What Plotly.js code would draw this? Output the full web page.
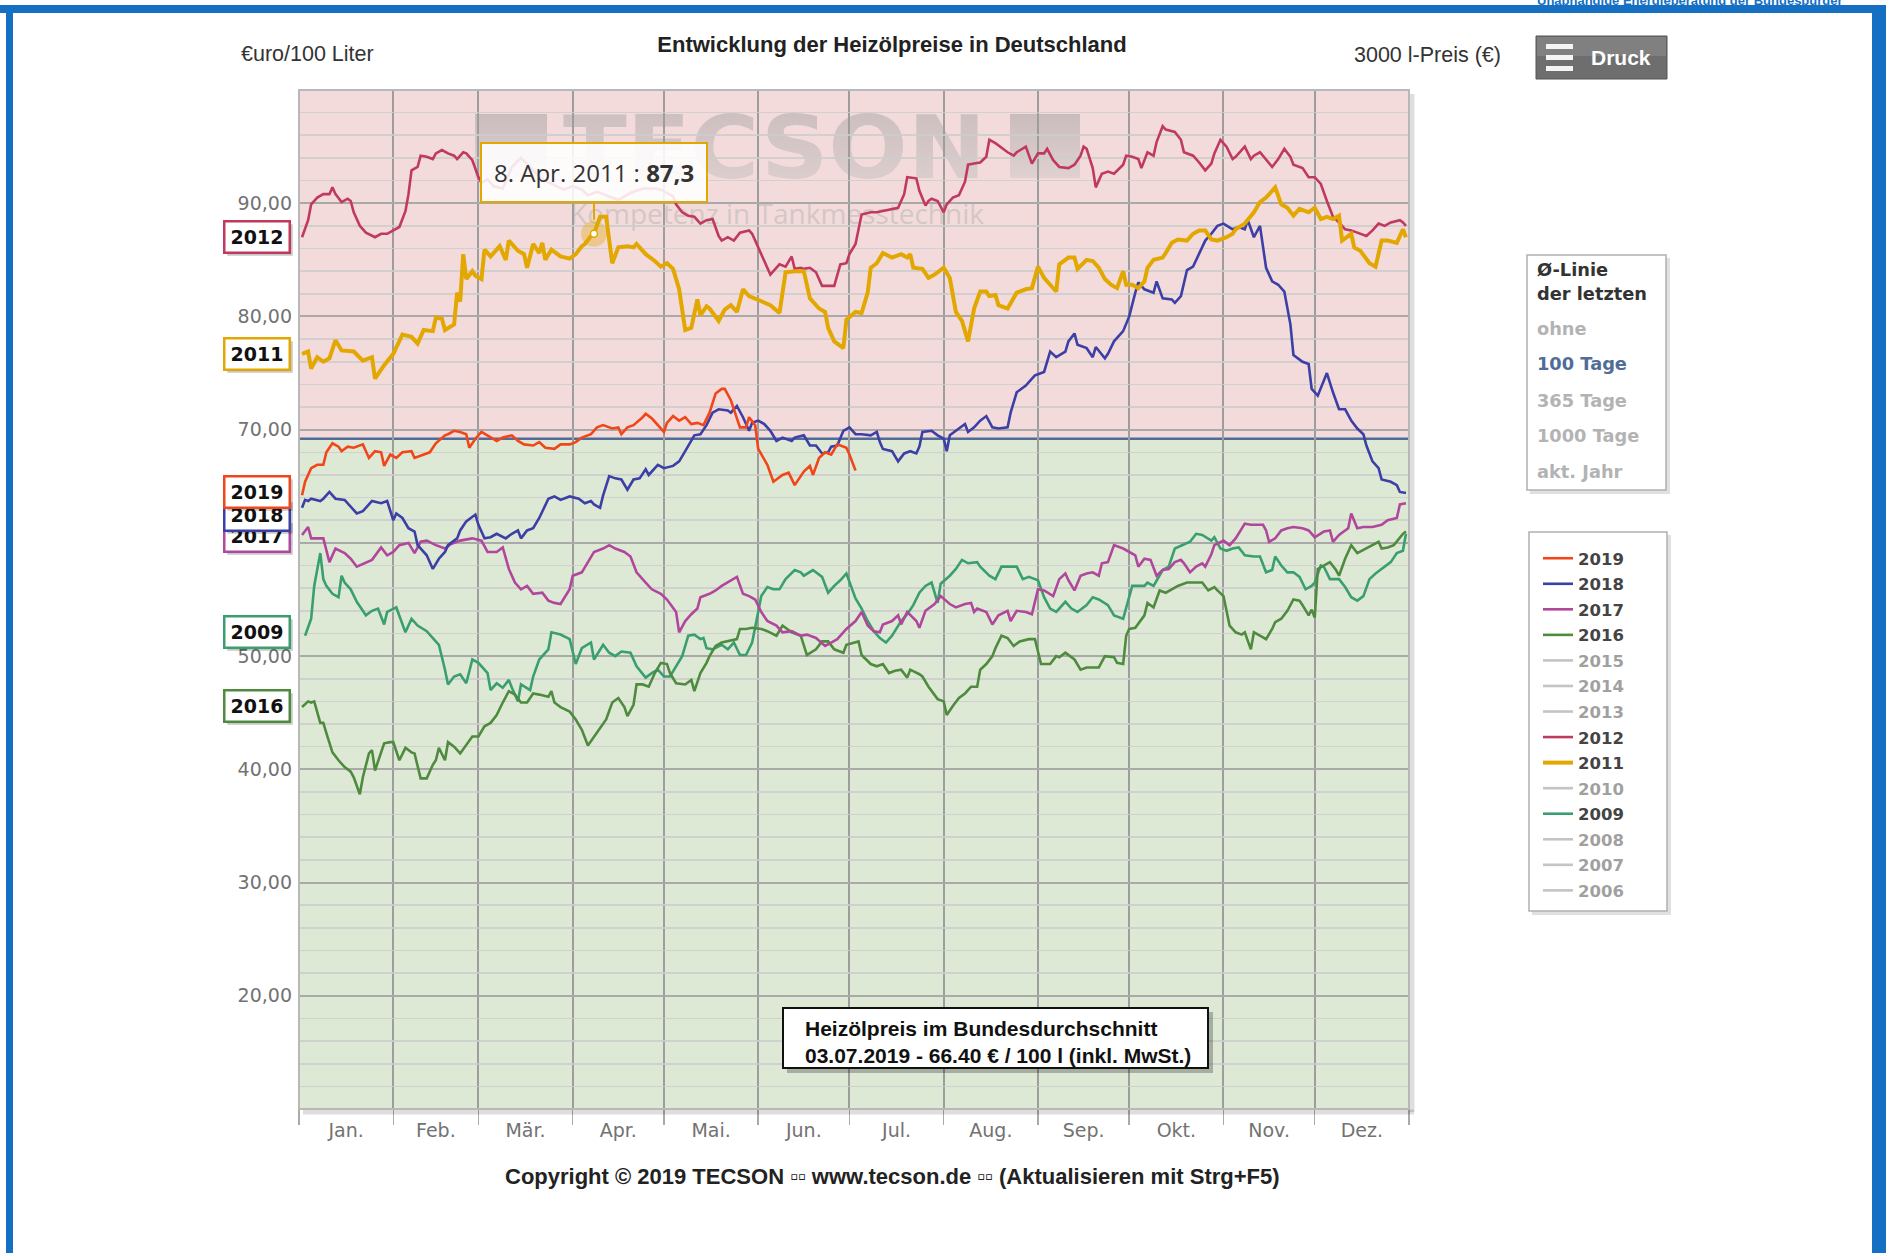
<!DOCTYPE html>
<html><head><meta charset="utf-8">
<script src="https://cdn.plot.ly/plotly-3.0.1.min.js"></script>
<style>html,body{margin:0;padding:0;background:#fff;} #chart{width:1886px;height:1253px;}</style>
</head><body><div id="chart"></div>
<script>
// ---------------- DATA ----------------
const monthNames = ['Jan.','Feb.','Mär.','Apr.','Mai.','Jun.','Jul.','Aug.','Sep.','Okt.','Nov.','Dez.'];
const monthStarts = [0,31,59,90,120,151,181,212,243,273,304,334,365];
const leftTicks = [20,30,40,50,60,70,80,90];
const rightTicks = [600,900,1200,1500,1800,2100,2400,2700];
const avg100 = 69.2;   // Ø-Linie der letzten 100 Tage
const tooltipDay2011 = 97;

const d2019 = [1,2,4,6,8,9,11,13,14,16,18,21,23,25,27,28,30,32,34,37,38,41,43,45,48,49,51,53,55,56,58,60,63,65,67,70,72,74,77,79,81,84,86,89,91,93,96,98,100,103,105,106,108,110,113,114,116,118,120,121,123,125,127,129,131,133,135,137,139,140,142,144,145,147,148,150,151,154,156,159,161,163,166,168,169,171,173,175,177,180,181,183];
const v2019 = [64.2,65.4,66.6,66.9,66.9,68.0,68.8,68.5,68.1,68.5,68.4,68.7,67.5,68.1,68.0,66.8,67.8,67.5,68.0,68.1,67.5,67.8,68.0,68.8,69.5,69.6,69.9,69.8,69.6,68.4,69.2,69.8,69.3,69.0,69.3,69.5,69.0,68.7,68.6,68.9,68.4,68.3,68.7,68.7,68.9,69.3,69.6,70.2,70.4,70.1,70.2,69.6,70.2,70.4,71.1,71.4,71.0,70.4,69.8,70.6,71.2,70.8,71.1,70.5,70.6,70.4,71.5,73.2,73.6,73.6,72.6,71.0,70.2,70.2,71.1,70.4,68.3,66.9,65.4,66.0,66.2,65.1,66.3,66.8,66.0,67.5,68.0,67.8,68.7,68.4,67.8,66.4];

const d2018 = [1,2,3,4,7,8,10,12,15,17,19,21,24,27,29,31,32,34,36,38,39,42,44,46,48,49,52,53,55,58,59,61,63,65,68,70,72,73,75,77,79,82,84,86,89,92,94,96,97,99,100,102,104,106,108,110,112,114,115,118,120,123,125,127,130,132,134,136,138,141,142,144,146,148,149,151,153,155,157,159,162,163,166,168,170,172,174,175,177,179,181,183,185,188,190,191,192,195,197,199,201,203,204,205,208,210,212,213,214,216,219,220,222,224,226,228,230,233,234,236,239,240,242,243,245,247,249,252,253,255,256,259,261,262,265,266,268,271,273,275,276,278,281,282,284,287,288,290,292,294,296,298,300,302,304,307,309,311,312,314,316,318,320,322,324,326,327,330,332,333,335,337,338,340,342,344,346,348,350,351,353,355,356,359,361,362,364];
const v2018 = [63.1,63.8,63.7,63.9,63.7,63.9,64.5,63.9,63.8,63.2,62.6,62.8,63.7,63.5,63.7,62.0,62.6,62.2,61.3,61.0,59.8,58.9,57.7,58.6,59.2,59.8,60.4,61.1,61.9,62.5,61.6,60.4,60.5,60.8,60.4,60.8,61.1,60.4,61.1,61.3,62.2,63.9,64.1,63.8,64.1,63.9,63.5,63.7,63.4,63.1,64.2,65.9,65.7,65.6,64.7,65.6,65.7,66.5,66.0,66.9,66.6,66.8,67.2,68.1,69.5,69.6,70.4,71.5,71.8,71.7,71.5,72.1,71.1,69.9,70.6,70.8,70.5,69.9,69.0,69.3,69.0,69.3,69.5,68.6,68.6,67.9,68.0,68.5,68.6,69.9,70.2,69.6,69.6,69.5,69.8,68.9,68.3,68.1,67.2,67.9,68.1,67.9,68.5,69.8,69.9,69.5,69.2,68.1,69.5,69.9,70.5,69.8,70.2,70.8,71.2,70.2,70.1,70.2,71.5,73.3,73.9,74.2,74.8,74.9,75.1,76.9,76.4,76.9,77.8,78.5,77.5,77.2,76.4,77.3,76.3,76.7,77.8,78.7,80.0,82.1,83.0,82.4,82.1,83.1,81.6,81.5,81.2,81.8,84.1,84.4,85.5,86.7,87.3,88.0,88.2,87.7,87.9,87.7,88.5,87.0,88.0,84.3,83.1,82.8,82.2,79.3,76.6,76.0,75.8,73.6,73.0,74.4,75.0,73.3,71.8,71.8,70.8,70.1,69.6,68.6,67.2,66.6,65.6,65.4,65.1,64.5,64.4];

const d2017 = [1,3,4,7,8,10,12,15,17,19,22,24,27,29,31,33,36,38,40,42,45,48,50,53,57,60,62,65,67,69,71,73,75,77,80,82,84,86,89,90,93,95,97,100,102,104,107,109,111,114,116,119,121,124,125,127,129,131,132,135,137,139,141,144,146,148,150,152,154,157,159,162,165,167,170,173,175,177,180,183,185,187,189,191,192,195,197,198,200,203,204,206,209,211,214,216,219,221,222,223,226,228,230,233,234,236,239,241,243,245,248,250,252,253,255,257,259,261,263,264,266,268,271,273,275,276,278,280,282,284,286,288,290,291,293,295,297,298,300,301,304,306,308,311,313,317,318,319,321,323,325,327,330,332,334,337,339,340,342,345,346,348,350,353,356,358,361,362,364];
const v2017 = [60.7,61.4,60.4,60.4,60.4,58.3,59.5,59.1,58.6,57.9,58.3,58.5,59.6,58.9,59.2,59.8,60.0,59.1,60.1,60.2,59.8,59.5,59.9,60.2,60.4,60.2,59.2,59.2,59.6,57.7,56.5,55.9,56.2,55.5,55.6,54.9,54.7,54.6,55.9,57.1,57.4,58.3,59.2,59.5,59.8,59.5,59.2,58.8,57.4,56.5,55.9,55.5,55.0,53.9,52.1,53.1,53.7,54.2,55.2,55.5,55.8,56.2,56.5,57.0,55.5,55.3,55.0,53.9,53.1,52.7,52.1,52.2,51.8,51.9,51.6,50.9,51.2,51.5,52.4,53.1,53.9,52.7,52.2,52.1,52.8,53.1,53.6,52.8,53.9,53.1,52.5,54.0,54.6,55.3,54.6,54.3,54.6,54.7,53.9,54.2,53.9,52.8,53.6,54.0,53.1,54.0,53.9,53.7,55.9,55.8,55.3,56.8,57.3,56.7,55.8,57.1,57.3,57.4,57.1,58.2,58.3,59.8,59.5,59.2,58.9,57.9,58.6,58.5,57.1,57.6,57.7,58.3,58.5,58.2,57.4,57.9,58.2,57.9,59.0,59.8,60.2,59.8,60.4,61.7,61.6,61.6,61.1,60.1,60.4,61.1,61.3,61.4,61.3,61.1,60.5,61.0,61.1,60.1,60.7,61.3,62.6,61.3,61.4,61.4,61.6,62.0,62.2,63.4,63.5];

const d2016 = [1,3,4,5,7,8,9,11,13,15,17,18,20,21,23,24,25,28,30,31,33,35,37,38,40,42,44,45,46,48,49,51,53,55,57,59,61,63,65,67,69,71,73,75,77,79,82,83,84,86,89,91,93,95,97,99,101,103,105,107,108,110,111,113,115,117,119,121,122,124,127,129,130,132,134,135,137,139,141,144,145,147,149,152,154,157,159,162,165,167,170,172,174,176,179,180,184,185,188,190,192,194,196,198,200,201,204,205,207,210,212,213,215,217,219,221,223,224,226,228,229,231,233,235,237,240,242,244,247,249,250,252,255,257,259,263,265,268,269,271,272,273,275,278,279,281,283,285,287,289,292,294,297,299,301,302,304,306,308,310,311,313,314,316,318,320,321,323,325,327,329,330,332,333,334,335,337,339,341,342,344,346,348,350,353,355,356,358,360,362,363,364];
const v2016 = [45.5,46.0,45.9,46.0,44.1,44.1,43.2,41.5,40.8,40.2,39.8,39.3,37.8,39.3,41.4,41.7,39.9,42.3,42.4,42.4,40.8,41.9,41.5,41.4,39.2,39.2,40.4,40.8,41.9,40.8,42.4,42.0,41.4,42.1,42.9,42.9,43.8,44.1,44.8,45.9,46.9,46.6,45.9,45.9,46.7,46.6,46.4,46.9,45.9,45.5,45.1,44.4,43.5,42.1,42.9,43.6,44.4,45.9,46.3,45.5,44.7,45.7,47.5,47.5,47.3,48.5,49.4,49.3,48.5,47.6,47.5,47.9,46.9,48.5,49.4,50.0,50.9,51.2,51.3,51.5,52.4,52.4,52.5,52.4,52.2,51.8,52.7,52.1,51.8,50.1,50.6,51.3,51.3,50.6,50.3,51.0,51.3,50.1,49.3,49.1,49.3,48.5,48.7,48.8,48.1,48.8,48.4,48.2,47.3,46.2,46.0,44.8,45.6,46.3,46.7,47.3,47.3,48.8,49.3,50.0,50.7,51.8,51.6,50.9,51.3,51.5,51.5,49.3,49.3,50.0,49.9,50.3,49.7,48.8,49.0,49.0,50.0,49.9,49.4,49.3,51.8,52.4,52.5,53.6,54.7,54.3,55.8,55.6,55.9,56.2,56.5,56.5,56.5,55.8,56.1,55.8,55.3,52.7,52.1,51.9,52.1,50.6,52.1,51.8,51.5,52.4,53.0,53.3,54.0,55.0,54.9,54.5,53.6,54.1,53.4,57.7,58.0,58.3,57.6,57.1,58.6,59.8,59.1,59.4,59.8,60.1,59.5,59.6,59.8,60.5,60.8,61.0];

const d2012 = [1,3,4,6,8,10,11,12,14,16,17,18,20,22,25,27,29,31,33,35,36,37,39,40,42,44,45,47,49,51,52,54,55,57,59,60,62,64,67,70,73,77,80,84,87,90,93,95,98,102,105,109,113,117,119,123,124,126,128,130,132,134,136,138,139,141,143,145,148,149,151,153,155,156,158,160,162,163,165,166,168,170,172,174,176,178,180,181,183,185,188,190,192,195,197,199,200,203,204,206,207,208,210,212,213,215,217,219,220,222,224,226,227,229,230,233,235,236,239,241,243,245,246,248,250,253,255,257,258,259,261,262,264,266,268,271,272,274,276,277,279,281,282,284,285,288,290,291,294,296,298,300,301,303,305,307,308,311,313,314,316,318,320,322,324,326,327,330,332,334,336,338,340,342,344,346,349,351,353,355,357,359,362,363,364];
const v2012 = [87.0,88.5,89.9,90.5,90.8,90.8,91.4,90.8,90.1,90.4,90.2,89.2,88.0,87.4,87.0,87.3,87.3,87.6,87.9,89.3,90.8,92.9,93.2,94.2,94.1,93.9,94.4,94.7,94.4,94.2,93.9,94.5,94.4,93.8,92.3,91.8,92.1,91.5,91.3,93.2,94.0,92.9,92.1,91.6,91.2,91.5,91.2,90.7,91.0,90.6,90.3,90.9,91.3,91.3,91.2,90.6,89.9,89.2,88.9,88.8,88.2,88.5,88.6,87.1,86.7,87.0,86.7,87.4,87.6,87.3,86.1,84.9,83.7,84.0,84.6,84.4,85.3,84.2,84.3,84.2,84.3,83.9,82.7,82.7,82.7,84.6,84.7,85.5,86.4,89.0,89.2,89.2,89.3,89.5,89.6,90.8,92.3,92.2,91.1,89.8,90.2,90.4,90.2,89.2,89.9,90.5,90.7,91.9,93.4,93.5,93.6,94.1,95.6,95.3,95.1,94.5,94.2,94.5,95.0,93.5,94.4,94.4,94.8,93.8,93.2,93.1,93.4,94.2,95.0,94.8,93.1,91.4,92.6,92.8,92.6,93.4,94.2,94.1,93.9,93.1,94.5,94.2,95.4,96.8,96.5,96.3,95.6,94.5,94.2,93.6,92.9,93.5,94.4,95.6,95.0,93.9,94.1,95.0,93.9,94.2,94.5,93.8,93.2,93.9,94.8,94.1,93.4,93.1,92.3,92.3,91.7,90.2,88.8,88.3,87.7,87.6,87.3,87.1,87.6,88.2,88.0,88.3,88.5,88.3,88.0];

const d2011 = [1,3,4,6,8,10,12,14,18,21,24,25,28,31,34,37,39,41,44,45,47,48,51,52,53,54,55,57,58,60,61,63,66,68,69,72,74,75,77,79,80,81,83,86,89,91,93,94,96,97,99,101,103,105,108,110,111,114,117,119,121,123,125,127,129,131,132,134,135,138,140,142,144,146,148,152,155,158,160,163,166,168,171,173,174,176,179,180,183,185,187,188,190,192,195,198,200,201,202,205,207,209,212,214,216,218,220,222,224,226,227,229,230,233,236,239,241,243,245,247,249,250,253,255,256,259,261,263,265,267,269,271,272,274,276,278,279,281,284,285,287,289,292,294,296,298,300,302,305,307,308,311,314,316,318,321,323,325,327,329,332,334,336,338,340,342,343,346,347,349,352,354,356,358,361,363,364];
const v2011 = [76.7,76.9,75.4,76.4,76.0,76.3,77.9,77.0,76.9,76.1,76.4,74.5,75.7,76.7,78.4,78.2,77.6,78.8,78.7,79.9,79.8,78.8,79.3,82.1,81.3,85.5,83.3,84.0,83.6,83.3,85.9,85.3,86.2,85.0,86.7,85.8,85.5,84.3,86.4,85.6,86.5,85.0,85.9,85.3,85.1,85.5,86.2,86.4,87.1,87.3,88.8,88.8,84.7,86.1,86.2,86.1,86.4,85.5,84.9,84.4,84.7,84.2,82.4,78.8,79.0,81.5,80.1,80.9,80.7,79.6,80.6,81.0,80.4,82.4,81.8,81.3,81.0,80.3,83.9,84.0,84.0,81.6,80.7,80.4,79.0,77.8,77.2,79.7,80.4,80.3,82.1,84.3,84.7,85.6,85.2,85.5,85.2,85.5,84.3,84.2,83.4,83.7,84.3,83.4,80.4,79.6,77.8,80.7,82.2,82.2,81.8,81.9,81.0,80.7,82.1,82.4,82.5,84.4,83.4,82.8,82.2,84.6,85.2,85.2,84.2,85.0,84.9,84.3,83.3,82.8,82.5,84.0,82.8,82.8,82.5,83.1,84.3,85.0,85.2,85.6,86.5,86.8,86.7,87.3,87.6,87.6,86.8,86.7,87.0,87.3,87.7,88.2,89.2,90.1,90.5,91.4,89.9,89.6,88.9,89.5,89.2,89.6,88.6,88.8,88.6,88.9,86.7,87.3,86.1,85.8,84.7,84.4,86.7,86.7,86.5,87.7,87.0];

const d2009 = [2,4,5,7,8,9,11,13,14,15,17,19,21,22,24,26,28,29,32,35,37,39,42,44,46,48,49,51,53,55,57,59,60,62,63,65,67,69,70,72,73,76,77,79,82,83,86,89,91,93,96,97,100,102,104,106,109,111,114,116,118,120,122,124,126,128,130,132,133,134,136,139,141,143,145,147,149,151,152,154,156,158,160,163,165,166,169,172,174,176,178,180,183,185,187,189,191,193,195,198,200,202,204,206,208,210,211,214,216,218,220,223,224,227,229,231,233,236,238,240,243,245,247,249,252,254,256,259,261,263,266,268,271,272,274,275,278,279,281,284,286,288,291,293,295,297,300,301,303,305,307,309,311,314,316,318,320,321,323,325,327,329,331,333,334,336,337,339,342,344,346,348,350,352,354,356,359,361,363,364];
const v2009 = [51.8,53.3,56.2,59.1,56.8,56.2,55.5,55.2,57.1,56.5,55.9,54.8,54.0,53.6,54.0,54.2,52.8,53.9,54.3,52.1,53.3,52.7,52.2,51.6,51.0,48.8,47.5,48.2,48.4,47.6,49.7,49.4,49.1,48.5,47.0,47.6,47.2,47.9,47.2,46.0,47.5,47.0,48.2,49.7,50.6,52.1,51.9,51.5,49.3,50.7,51.2,49.7,51.0,50.3,50.0,50.4,50.3,49.1,48.1,48.5,48.8,48.2,48.2,49.1,50.0,51.8,51.9,51.5,51.6,50.7,50.6,51.0,50.6,51.2,50.1,50.1,51.2,53.9,55.3,56.1,55.9,55.9,56.8,57.6,57.4,57.1,57.6,57.0,55.6,56.2,56.7,57.3,55.1,54.2,53.1,52.2,51.6,51.2,51.8,53.1,53.7,54.5,55.6,56.2,56.5,54.7,56.4,57.1,57.7,58.5,58.2,58.3,57.9,57.1,56.8,57.9,57.9,57.9,56.8,57.0,56.7,55.2,54.2,53.9,54.8,54.2,53.9,54.5,55.2,55.0,54.5,53.6,53.3,54.3,56.2,56.2,56.2,56.5,56.2,57.6,57.9,59.5,59.9,60.1,60.8,60.7,60.2,60.5,59.5,59.3,59.5,59.6,58.9,58.8,58.8,57.4,57.6,58.8,58.0,57.4,57.4,57.0,55.9,56.2,56.5,58.0,57.9,56.8,56.8,56.1,55.2,54.9,55.3,56.8,57.3,57.7,58.3,59.1,59.3,60.8];

const legendYears = [2019,2018,2017,2016,2015,2014,2013,2012,2011,2010,2009,2008,2007,2006];

// ---------------- STYLE / LAYOUT ----------------
const C = {2019:'#f0461a',2018:'#3b3fa6',2017:'#b1479c',2016:'#4e8b3f',2012:'#c0395e',2011:'#e2a700',2009:'#3a9f6f'};
const shown = {2019:[d2019,v2019],2018:[d2018,v2018],2017:[d2017,v2017],2016:[d2016,v2016],2012:[d2012,v2012],2011:[d2011,v2011],2009:[d2009,v2009]};
const drawOrder = [2009,2016,2017,2018,2012,2019,2011];

const L=299, T=90, W=1110, H=1019;
const px = x => (x - L)/W;
const py = y => 1 - (y - T)/H;
const dayAt = x => (x - L)*365/W;
const valAt = y => 100 - (y - T)*90/H;

const traces = [];
drawOrder.forEach(yr => {
  traces.push({type:'scatter', mode:'lines', x: shown[yr][0], y: shown[yr][1], name: String(yr), legendgroup:String(yr),
    legendrank: legendYears.indexOf(yr)+1, hoverinfo:'skip',
    line:{color:C[yr], width: yr===2011 ? 4 : 2.6}});
});
legendYears.filter(y => !shown[y]).forEach(yr => {
  traces.push({type:'scatter', mode:'lines', x:[null], y:[null], name:String(yr), legendgroup:String(yr), visible:'legendonly',
    legendrank: legendYears.indexOf(yr)+1, line:{color:'#8a8a8a', width:2.6}});
});
// highlighted point (tooltip)
const ti = d2011.indexOf(tooltipDay2011);
traces.push({type:'scatter', mode:'markers', x:[d2011[ti]], y:[v2011[ti]], showlegend:false, hoverinfo:'skip',
  marker:{size:26, color:'rgba(226,167,0,0.35)', line:{width:0}}});
traces.push({type:'scatter', mode:'markers', x:[d2011[ti]], y:[v2011[ti]], showlegend:false, hoverinfo:'skip',
  marker:{size:7, color:'#ffffff', line:{width:1.5, color:C[2011]}}});

const monthMid = monthStarts.slice(0,12).map((s,i)=> (s + monthStarts[i+1])/2);
const fmt2 = v => v.toFixed(2).replace('.', ',');
const deMon = ['Jan.','Feb.','Mär.','Apr.','Mai','Jun.','Jul.','Aug.','Sep.','Okt.','Nov.','Dez.'];
const tDate = new Date(2011, 0, 1 + d2011[ti]);
const tooltipText = tDate.getDate() + '. ' + deMon[tDate.getMonth()] + ' 2011 : <b>' + v2011[ti].toFixed(1).replace('.', ',') + '</b>';
const lastDay = d2019[d2019.length-1], lastVal = v2019[v2019.length-1];
const lDate = new Date(2019, 0, 1 + lastDay);
const p2 = n => String(n).padStart(2,'0');
const priceText = '<b>Heizölpreis im Bundesdurchschnitt</b><br><b>' + p2(lDate.getDate()) + '.' + p2(lDate.getMonth()+1) + '.2019 - ' + lastVal.toFixed(2) + ' € / 100 l (inkl. MwSt.)</b>';

const shapes = [
  {type:'rect', xref:'x', yref:'y', x0:0, x1:365, y0:avg100, y1:100, fillcolor:'#f3dbdb', line:{width:0}, layer:'below'},
  {type:'rect', xref:'x', yref:'y', x0:0, x1:365, y0:10, y1:avg100, fillcolor:'#dee9d5', line:{width:0}, layer:'below'},
  {type:'line', xref:'x', yref:'y', x0:0, x1:365, y0:avg100, y1:avg100, line:{color:'#4f6d96', width:2.6}, layer:'below'},
  // plot frame + shadow
  {type:'line', xref:'paper', yref:'paper', x0:px(L+W+3), x1:px(L+W+3), y0:py(T+4), y1:py(T+H+3), line:{color:'rgba(0,0,0,0.13)', width:5}},
  {type:'line', xref:'paper', yref:'paper', x0:px(L+4), x1:px(L+W+5), y0:py(T+H+3), y1:py(T+H+3), line:{color:'rgba(0,0,0,0.13)', width:5}},
  {type:'rect', xref:'paper', yref:'paper', x0:0, x1:1, y0:0, y1:1, line:{color:'#b8b8b8', width:2}},
  // blue page frame
  {type:'rect', xref:'paper', yref:'paper', x0:px(0), x1:px(1886), y0:py(5), y1:py(13), fillcolor:'#1570c4', line:{width:0}},
  {type:'rect', xref:'paper', yref:'paper', x0:px(6), x1:px(13), y0:py(5), y1:py(1253), fillcolor:'#1570c4', line:{width:0}},
  {type:'rect', xref:'paper', yref:'paper', x0:px(1872), x1:px(1886), y0:py(5), y1:py(1253), fillcolor:'#1570c4', line:{width:0}},
  // Druck button
  {type:'rect', xref:'paper', yref:'paper', x0:px(1536), x1:px(1667), y0:py(36), y1:py(79), fillcolor:'#6e6e6e', line:{color:'#555', width:1}},
  {type:'rect', xref:'paper', yref:'paper', x0:px(1537), x1:px(1666), y0:py(37), y1:py(56), fillcolor:'rgba(255,255,255,0.13)', line:{width:0}},
  {type:'rect', xref:'paper', yref:'paper', x0:px(1546), x1:px(1573), y0:py(44), y1:py(49), fillcolor:'#f4f4f4', line:{width:0}},
  {type:'rect', xref:'paper', yref:'paper', x0:px(1546), x1:px(1573), y0:py(55), y1:py(60), fillcolor:'#f4f4f4', line:{width:0}},
  {type:'rect', xref:'paper', yref:'paper', x0:px(1546), x1:px(1573), y0:py(66), y1:py(71), fillcolor:'#f4f4f4', line:{width:0}},
  // Ø-Linie box
  {type:'rect', xref:'paper', yref:'paper', x0:px(1530), x1:px(1670), y0:py(258), y1:py(494), fillcolor:'rgba(0,0,0,0.12)', line:{width:0}},
  {type:'rect', xref:'paper', yref:'paper', x0:px(1527), x1:px(1666), y0:py(255), y1:py(490), fillcolor:'#ffffff', line:{color:'#b0b0b0', width:1.5}},
  // legend box
  {type:'rect', xref:'paper', yref:'paper', x0:px(1532), x1:px(1671), y0:py(535), y1:py(915), fillcolor:'rgba(0,0,0,0.12)', line:{width:0}},
  {type:'rect', xref:'paper', yref:'paper', x0:px(1529), x1:px(1667), y0:py(532), y1:py(911), fillcolor:'#ffffff', line:{color:'#b0b0b0', width:1.5}},
  // price box
  {type:'rect', xref:'paper', yref:'paper', x0:px(787), x1:px(1213), y0:py(1012), y1:py(1073), fillcolor:'rgba(0,0,0,0.25)', line:{width:0}},
  {type:'rect', xref:'paper', yref:'paper', x0:px(783), x1:px(1208), y0:py(1008), y1:py(1068), fillcolor:'#ffffff', line:{color:'#111', width:2}}
];

const baseFont = 'Liberation Sans, Arial, sans-serif';
const boxFont = 'DejaVu Sans, Verdana, sans-serif';
const annotations = [
  {xref:'paper', yref:'paper', x:px(307), y:py(54), text:'€uro/100 Liter', showarrow:false, xanchor:'center', yanchor:'middle', font:{family:baseFont, size:21.5, color:'#333'}},
  {xref:'paper', yref:'paper', x:px(1427), y:py(55), text:'3000 l-Preis (€)', showarrow:false, xanchor:'center', yanchor:'middle', font:{family:baseFont, size:21.5, color:'#333'}},
  {xref:'paper', yref:'paper', x:px(1621), y:py(58), text:'Druck', showarrow:false, xanchor:'center', yanchor:'middle', font:{family:baseFont, size:21, color:'#ffffff', weight:'bold'}},
  {xref:'paper', yref:'paper', x:px(1690), y:py(0), text:'Unabhängige Energieberatung der Bundesbürger', showarrow:false, xanchor:'center', yanchor:'middle', font:{family:baseFont, size:13, color:'#1570c4', weight:'bold'}},
  {xref:'paper', yref:'paper', x:px(892), y:py(1176), text:'Copyright © 2019 TECSON ▫▫ www.tecson.de ▫▫ (Aktualisieren mit Strg+F5)', showarrow:false, xanchor:'center', yanchor:'middle', font:{family:baseFont, size:22, color:'#222', weight:'bold'}},
  {xref:'paper', yref:'paper', x:px(803), y:py(1042), text:priceText, showarrow:false, xanchor:'left', yanchor:'middle', align:'left', font:{family:baseFont, size:21, color:'#111'}},
];
// Ø-Linie panel texts
[['Ø-Linie',269,'#333'],['der letzten',293,'#333'],['ohne',328,'#b3b3b3'],['100 Tage',363,'#4f6d96'],['365 Tage',400,'#b3b3b3'],['1000 Tage',435,'#b3b3b3'],['akt. Jahr',471,'#b3b3b3']].forEach(t => {
  annotations.push({xref:'paper', yref:'paper', x:px(1535), y:py(t[1]), text:t[0], showarrow:false, xanchor:'left', yanchor:'middle', font:{family:boxFont, size:17.8, color:t[2], weight:'bold'}});
});
// year labels at the left
const yearLabelPos = [[2012,87.0],[2011,76.7],[2017,60.6],[2018,62.5],[2019,64.5],[2009,52.1],[2016,45.6]];
yearLabelPos.forEach(p => {
  const common = {xref:'paper', yref:'y', x:px(257), y:p[1], text:'<b>'+p[0]+'</b>', showarrow:false, xanchor:'center', yanchor:'middle', width:56, borderpad:3.5, borderwidth:2.5};
  annotations.push(Object.assign({}, common, {xshift:3, yshift:-3, bgcolor:'rgba(0,0,0,0.22)', bordercolor:'rgba(0,0,0,0)', font:{family:boxFont, size:19, color:'rgba(0,0,0,0)'}}));
  annotations.push(Object.assign({}, common, {bgcolor:'#ffffff', bordercolor:C[p[0]], font:{family:boxFont, size:19, color:'#111'}}));
});
// tooltip
annotations.push({xref:'x', yref:'y', x:d2011[ti], y:v2011[ti], text:tooltipText, showarrow:true, arrowhead:0, arrowwidth:2, arrowcolor:C[2011], ax:0, ay:-61, standoff:14,
  bgcolor:'rgba(255,255,255,0.87)', bordercolor:C[2011], borderwidth:2, borderpad:12, font:{family:'Open Sans, sans-serif', size:24, color:'#333'}});

// watermark
const wm = '<svg xmlns="http://www.w3.org/2000/svg" width="630" height="140" viewBox="0 0 630 140">' +
 '<defs><linearGradient id="g" x1="0" y1="0" x2="0" y2="1"><stop offset="0" stop-color="#8f8f8f"/><stop offset="1" stop-color="#c4c4c4"/></linearGradient></defs>' +
 '<g opacity="0.40"><rect x="15" y="14" width="72" height="64" fill="url(#g)"/>' +
 '<text x="103" y="78" font-family="DejaVu Sans" font-weight="bold" font-size="88" textLength="423" lengthAdjust="spacingAndGlyphs" fill="url(#g)">TECSON</text>' +
 '<rect x="550" y="14" width="70" height="64" fill="url(#g)"/></g>' +
 '<text x="110" y="124" font-family="Open Sans" font-size="28" textLength="414" lengthAdjust="spacingAndGlyphs" fill="#a9a9a9" opacity="0.4">Kompetenz in Tankmesstechnik</text></svg>';
const images = [{source:'data:image/svg+xml;charset=utf-8,' + encodeURIComponent(wm), xref:'x', yref:'y',
  x:dayAt(460), y:valAt(100), sizex:630*365/W, sizey:140*90/H, xanchor:'left', yanchor:'top', sizing:'stretch', layer:'below'}];

const tickFont = {family:boxFont, size:19, color:'#727272'};
const layout = {
  width:1886, height:1253,
  margin:{l:L, r:1886-L-W, t:T, b:1253-T-H},
  paper_bgcolor:'#ffffff', plot_bgcolor:'rgba(0,0,0,0)',
  title:{text:'Entwicklung der Heizölpreise in Deutschland', x:892/1886, y:1-44/1253, xanchor:'center', yanchor:'middle', xref:'container', yref:'container',
    font:{family:baseFont, size:22, color:'#222', weight:'bold'}},
  showlegend:true,
  legend:{x:px(1538), y:py(541), xanchor:'left', yanchor:'top', bgcolor:'rgba(0,0,0,0)', borderwidth:0,
    font:{family:boxFont, size:16.5, color:'#444', weight:'bold'}, itemwidth:30, tracegroupgap:1.1, traceorder:'grouped'},
  hovermode:false,
  xaxis:{range:[0,365], tickmode:'array', tickvals:monthMid, ticktext:monthNames, ticks:'', showgrid:false, zeroline:false, showline:false,
    tickfont:tickFont, ticklabelstandoff:8, fixedrange:true,
    minor:{tickmode:'array', tickvals:monthStarts, ticks:'outside', ticklen:15, tickwidth:1.5, tickcolor:'#aaaaaa', showgrid:true, gridcolor:'#9d9d9d', gridwidth:2}},
  yaxis:{range:[10,100], tickmode:'array', tickvals:leftTicks, ticktext:leftTicks.map(fmt2), ticks:'', showgrid:true, gridcolor:'#a9a9a9', gridwidth:2,
    zeroline:false, showline:false, tickfont:tickFont, ticklabelstandoff:6, fixedrange:true,
    minor:{tickmode:'linear', tick0:0, dtick:2, showgrid:true, gridcolor:'rgba(205,205,205,0.85)', gridwidth:1.6}},
  yaxis2:{overlaying:'y', side:'right', range:[300,3000], tickmode:'array', tickvals:rightTicks, ticktext:rightTicks.map(fmt2), ticks:'',
    showgrid:false, zeroline:false, showline:false, tickfont:tickFont, ticklabelstandoff:6, fixedrange:true},
  shapes:shapes, annotations:annotations, images:images
};

Plotly.newPlot('chart', traces, layout, {staticPlot:true, displayModeBar:false});
</script></body></html>
